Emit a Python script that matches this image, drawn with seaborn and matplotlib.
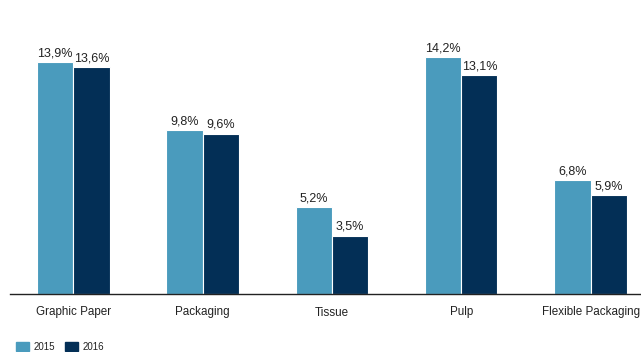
import matplotlib
matplotlib.use("Agg")
import matplotlib.pyplot as plt
import seaborn as sns
import pandas as pd

categories = ["Graphic Paper", "Packaging", "Tissue", "Pulp", "Flexible Packaging"]
years = ["2015", "2016"]
values_2015 = [13.9, 9.8, 5.2, 14.2, 6.8]
values_2016 = [13.6, 9.6, 3.5, 13.1, 5.9]

colors = {"2015": "#4a9bbd", "2016": "#032f56"}

df = pd.DataFrame({
    "category": categories * 2,
    "year": ["2015"] * len(categories) + ["2016"] * len(categories),
    "value": values_2015 + values_2016,
})

sns.set_theme(style="white")
plt.rcParams["font.family"] = ["Liberation Sans", "DejaVu Sans"]

fig = plt.figure(figsize=(6.41, 3.52), dpi=100)
ax = fig.add_axes([10 / 641, 58 / 352, 631 / 641, 294 / 352])

sns.barplot(data=df, x="category", y="value", hue="year", order=categories,
            hue_order=years, palette=colors, width=0.56, edgecolor="white",
            linewidth=0.8, saturation=1, ax=ax, legend=False)

for container in ax.containers:
    ax.bar_label(container,
                 labels=[f"{v:.1f}%".replace(".", ",") for v in container.datavalues],
                 padding=2, fontsize=9, color="#222222")

ax.set_xlim(-0.49, 4.39)
ax.set_ylim(0, 17.6)
ax.set_xlabel("")
ax.set_ylabel("")
ax.set_yticks([])
ax.tick_params(axis="x", length=0, pad=9, labelsize=8.4, labelcolor="#222222")
for side in ["top", "right", "left"]:
    ax.spines[side].set_visible(False)
ax.spines["bottom"].set_color("#222222")
ax.spines["bottom"].set_linewidth(1.0)

handles = [plt.Rectangle((0, 0), 1, 1, color=colors[y]) for y in years]
fig.legend(handles, years, loc="lower left", bbox_to_anchor=(0.012, -0.025),
           ncol=2, frameon=False, fontsize=7, handlelength=1.3, handleheight=1.1,
           handletextpad=0.5, columnspacing=1.0, labelcolor="#222222")

fig.savefig("out.png", dpi=100)
